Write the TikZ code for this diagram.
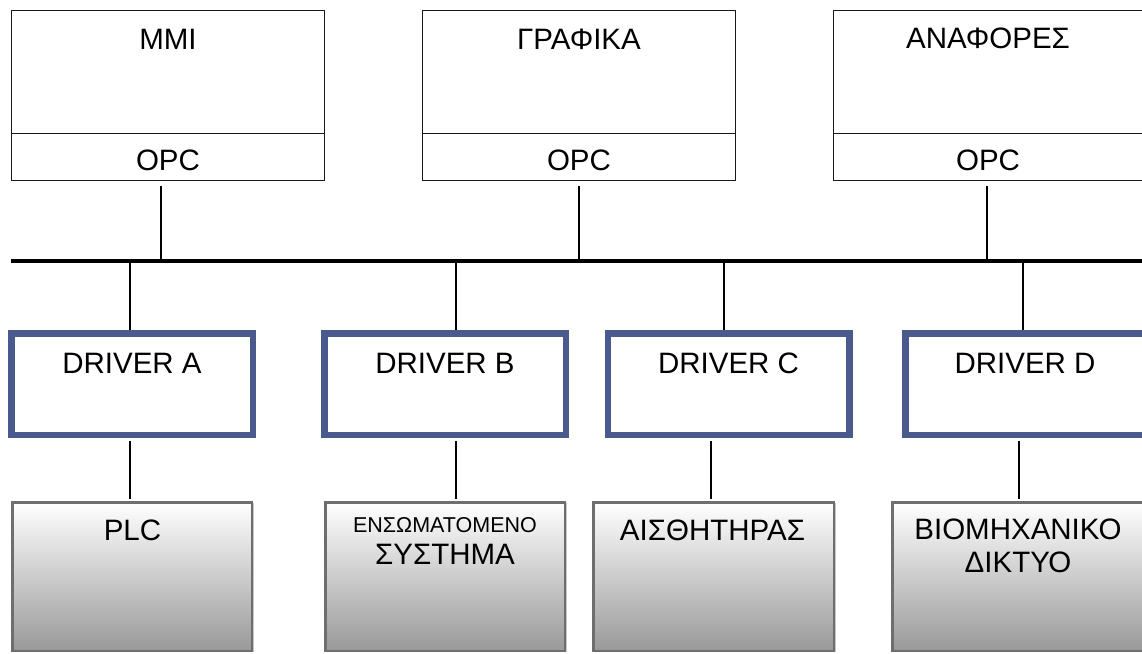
\documentclass[tikz,border=0pt]{standalone}
\usepackage{fontspec}
\setmainfont{Liberation Sans}
\usetikzlibrary{shadows}
\definecolor{drvblue}{HTML}{4A5A8C}
\definecolor{devborder}{HTML}{6E6E6E}
\definecolor{devbottom}{HTML}{999999}
\begin{document}
\begin{tikzpicture}[x=1pt,y=-1pt,
  topbox/.style={draw=black!90, line width=1.3pt, rectangle, inner sep=0pt, minimum width=313pt},
  drvbox/.style={draw=drvblue, line width=6.5pt, rectangle, inner sep=0pt, minimum width=241.5pt, minimum height=101.5pt, fill=white},
  devbox/.style={draw=devborder, line width=2.5pt, rectangle, inner sep=0pt, minimum height=148.5pt,
     top color=white, bottom color=devbottom,
     general shadow={fill=black!22, shadow xshift=2.5pt, shadow yshift=-1pt}},
  lbl/.style={anchor=base, inner sep=0pt, font=\fontsize{29.5}{33}\selectfont},
  lblsmall/.style={anchor=base, inner sep=0pt, font=\fontsize{21.5}{24}\selectfont},
  conn/.style={line width=1.1pt, draw=black},
  bus/.style={line width=4pt, draw=black}
]
\useasboundingbox (0,0) rectangle (1142,653);

% top application boxes
\node[topbox, minimum height=123pt] (mmi) at (168,72) {};
\node[topbox, minimum height=47pt] (mmiopc) at (168,157) {};
\node[topbox, minimum height=123pt] (graf) at (579,72) {};
\node[topbox, minimum height=47pt] (grafopc) at (579,157) {};
\node[topbox, minimum height=123pt] (anaf) at (990,72) {};
\node[topbox, minimum height=47pt] (anafopc) at (990,157) {};

\node[lbl] (mmiT) at (168,49) {MMI};
\node[lbl] (mmiO) at (168,170) {OPC};
\node[lbl] (grafT) at (579,49) {ΓΡΑΦΙΚΑ};
\node[lbl] (grafO) at (579,170) {OPC};
\node[lbl] (anafT) at (988,48) {ΑΝΑΦΟΡΕΣ};
\node[lbl] (anafO) at (988,170) {OPC};

% bus
\coordinate (busL) at (11,261);
\coordinate (busR) at (1150,261);
\draw[bus] (busL) -- (busR);
\coordinate (t1) at (161,261);
\coordinate (t2) at (579,261);
\coordinate (t3) at (987,261);
\coordinate (b1) at (130,261);
\coordinate (b2) at (456,261);
\coordinate (b3) at (724,261);
\coordinate (b4) at (1023,261);

\draw[conn, shorten <=5pt] (mmiopc.south -| t1) -- (t1);
\draw[conn, shorten <=5pt] (grafopc.south -| t2) -- (t2);
\draw[conn, shorten <=5pt] (anafopc.south -| t3) -- (t3);

% drivers
\node[drvbox] (drvA) at (132,384) {};
\node[drvbox] (drvB) at (445,384) {};
\node[drvbox] (drvC) at (728.5,384) {};
\node[drvbox] (drvD) at (1026,384) {};
\node[lbl] (drvAT) at (132,373) {DRIVER A};
\node[lbl] (drvBT) at (445,373) {DRIVER B};
\node[lbl] (drvCT) at (728.5,373) {DRIVER C};
\node[lbl] (drvDT) at (1025,373) {DRIVER D};

\draw[conn] (b1) -- (drvA.north -| b1);
\draw[conn] (b2) -- (drvB.north -| b2);
\draw[conn] (b3) -- (drvC.north -| b3);
\draw[conn] (b4) -- (drvD.north -| b4);

% devices
\node[devbox, minimum width=239.5pt] (devA) at (132,576.5) {};
\node[devbox, minimum width=239.5pt] (devB) at (445,576.5) {};
\node[devbox, minimum width=240.5pt] (devC) at (713.5,576.5) {};
\node[devbox, minimum width=253.5pt] (devD) at (1019,576.5) {};

\node[lbl] (devAT) at (132.5,540) {PLC};
\node[lblsmall] (devBT1) at (445,532) {ΕΝΣΩΜΑΤΟΜΕΝΟ};
\node[lbl] (devBT2) at (445,564) {ΣΥΣΤΗΜΑ};
\node[lbl] (devCT) at (712.5,540) {ΑΙΣΘΗΤΗΡΑΣ};
\node[lbl] (devDT1) at (1018,539) {ΒΙΟΜΗΧΑΝΙΚΟ};
\node[lbl] (devDT2) at (1018,572) {ΔΙΚΤΥΟ};

\draw[conn, shorten <=3pt, shorten >=2pt] ([xshift=-2pt]drvA.south) -- ([xshift=-2pt]drvA.south |- devA.north);
\draw[conn, shorten <=3pt, shorten >=2pt] ([xshift=11pt]drvB.south) -- ([xshift=11pt]drvB.south |- devB.north);
\draw[conn, shorten <=3pt, shorten >=2pt] ([xshift=-17.5pt]drvC.south) -- ([xshift=-17.5pt]drvC.south |- devC.north);
\draw[conn, shorten <=3pt, shorten >=2pt] ([xshift=-7pt]drvD.south) -- ([xshift=-7pt]drvD.south |- devD.north);
\end{tikzpicture}
\end{document}
